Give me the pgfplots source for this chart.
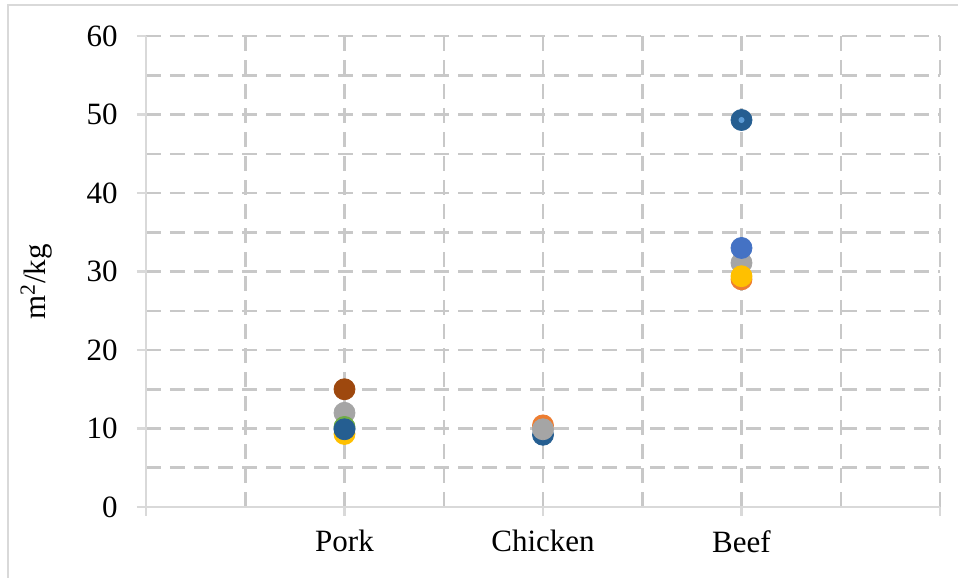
\documentclass[border=0pt]{standalone}
\usepackage{fontspec}
\setmainfont{Liberation Serif}
\usepackage{pgfplots}
\pgfplotsset{compat=1.18}
\definecolor{axgray}{RGB}{217,217,217}
\definecolor{gridgray}{RGB}{200,200,200}
\definecolor{cOrange}{HTML}{ED7D31}
\definecolor{cGray}{HTML}{A5A5A5}
\definecolor{cYellow}{HTML}{FFC000}
\definecolor{cBlue}{HTML}{4472C4}
\definecolor{cGreen}{HTML}{70AD47}
\definecolor{cDark}{HTML}{255E91}
\definecolor{cBrown}{HTML}{9E480E}
\definecolor{cLight}{HTML}{5B9BD5}
\begin{document}
\fontsize{15.5}{18}\selectfont
\begin{tikzpicture}
\useasboundingbox (0,0) rectangle (479pt,289pt);
\draw[color=axgray, line width=1pt] (4pt,0) -- (4pt,286.5pt) -- (479pt,286.5pt);
\begin{axis}[
  at={(73pt,35.5pt)}, anchor=south west,
  scale only axis, width=397pt, height=235.5pt,
  xmin=0, xmax=8, ymin=0, ymax=60,
  axis x line*=bottom, axis y line*=left,
  axis line style={axgray, line width=1.25pt},
  xtick={0,2,4,6,8}, xticklabels={,Pork,Chicken,Beef,},
  minor xtick={1,3,5,7},
  ytick={0,10,...,60}, minor ytick={5,15,...,55},
  /pgf/number format/assume math mode=true,
  grid=both,
  major grid style={gridgray, line width=1.25pt, dash pattern=on 7.5pt off 4.5pt},
  minor grid style={gridgray, line width=1.25pt, dash pattern=on 7.5pt off 4.5pt},
  tick align=outside, major tick length=4.5pt, minor tick length=0pt,
  major tick style={axgray, line width=1.25pt},
  tick label style={font=\fontsize{15.5}{18}\selectfont, text=black},
  yticklabel style={inner sep=0pt, xshift=-9.5pt},
  xticklabel style={inner sep=0pt, yshift=-7pt},
  ylabel={m\textsuperscript{2}/kg},
  ylabel style={font=\fontsize{15.5}{18}\selectfont, at={(axis description cs:-0.105,0.478)}, anchor=south},
  every axis plot/.append style={only marks, mark=*, mark size=5.25pt},
  clip=false,
]
\addplot[cOrange, mark options={fill=cOrange, draw=cOrange}] coordinates {(4,10.4) (6,29.0)};
\addplot[cDark, mark options={fill=cDark, draw=cDark}] coordinates {(4,9.2)};
\addplot[cGray, mark options={fill=cGray, draw=cGray}] coordinates {(2,12.0) (4,9.9) (6,31.1)};
\addplot[cBrown, mark options={fill=cBrown, draw=cBrown}] coordinates {(2,15.0)};
\addplot[cBlue, mark options={fill=cBlue, draw=cBlue}] coordinates {(6,33.0) (2,10.0)};
\addplot[cGreen, mark options={fill=cGreen, draw=cGreen}] coordinates {(2,10.2)};
\addplot[cYellow, mark options={fill=cYellow, draw=cYellow}] coordinates {(2,9.3) (6,29.4)};
\addplot[cDark, mark options={fill=cDark, draw=cDark}] coordinates {(2,9.9) (6,49.3)};
\addplot[cLight, mark size=1.3pt, mark options={fill=cLight, draw=cLight}] coordinates {(6,49.3)};
\end{axis}
\end{tikzpicture}
\end{document}
